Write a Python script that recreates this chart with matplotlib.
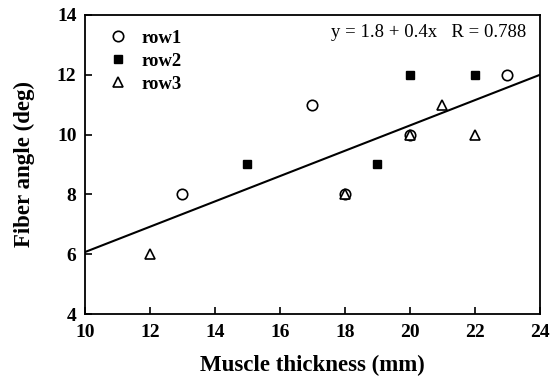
import matplotlib
matplotlib.use("Agg")
import matplotlib.pyplot as plt

# data
row1_x = [13, 17, 18, 20, 23]
row1_y = [8, 11, 8, 10, 12]
row2_x = [15, 19, 20, 22]
row2_y = [9, 9, 12, 12]
row3_x = [12, 18, 20, 21, 22]
row3_y = [6, 8, 10, 11, 10]
fit_x = [10, 24]
fit_y = [6.07, 12.0]

plt.rcParams['font.family'] = ['Liberation Serif', 'DejaVu Serif']

fig = plt.figure(figsize=(5.51, 3.79), dpi=100)
ax = fig.add_axes([0.154, 0.1715, 0.826, 0.789])

ax.plot(fit_x, fit_y, color='black', lw=1.5, zorder=1)
ax.plot(row1_x, row1_y, 'o', mfc='white', mec='black', ms=7.5, mew=1.2, label='row1', zorder=3)
ax.plot(row2_x, row2_y, 's', mfc='black', mec='black', ms=6, label='row2', zorder=2)
ax.plot(row3_x, row3_y, '^', mfc='white', mec='black', ms=7.5, mew=1.2, label='row3', zorder=4)

ax.set_xlim(10, 24)
ax.set_ylim(4, 14)
ax.set_xticks(range(10, 25, 2))
ax.set_yticks(range(4, 15, 2))
ax.tick_params(direction='in', length=5, width=1.2, labelsize=14, top=False, right=False)
ax.tick_params(axis='x', pad=7)
ax.tick_params(axis='y', pad=6)
for lab in ax.get_xticklabels() + ax.get_yticklabels():
    lab.set_fontweight('bold')
for s in ax.spines.values():
    s.set_linewidth(1.3)

ax.set_xlabel('Muscle thickness (mm)', fontsize=16.5, fontweight='bold', labelpad=10)
ax.set_ylabel('Fiber angle (deg)', fontsize=16.5, fontweight='bold', labelpad=16)

ax.text(0.97, 0.94, 'y = 1.8 + 0.4x   R = 0.788', transform=ax.transAxes,
        ha='right', va='center', fontsize=13.5)

leg = ax.legend(loc='upper left', bbox_to_anchor=(0.014, 0.995), frameon=False,
                fontsize=13.5, handletextpad=0.5, labelspacing=0.32,
                borderaxespad=0.3, borderpad=0.4, handlelength=1.5)
for t in leg.get_texts():
    t.set_fontweight('bold')

fig.savefig('out.png', dpi=100)
